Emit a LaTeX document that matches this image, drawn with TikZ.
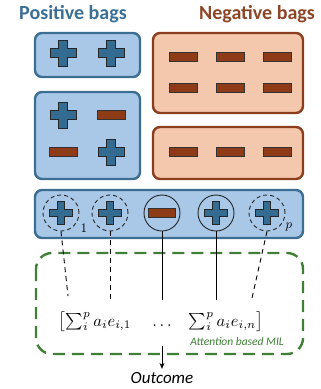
\documentclass[tikz,border=0pt]{standalone}
\usepackage{fontspec}
\setmainfont{Carlito}
\usetikzlibrary{arrows.meta}
\definecolor{bagblue}{HTML}{A9C8E8}
\definecolor{bagblueline}{HTML}{3C6E92}
\definecolor{plusfill}{HTML}{336C90}
\definecolor{negfill}{HTML}{F4C8AC}
\definecolor{negline}{HTML}{8A3E1E}
\definecolor{minusfill}{HTML}{8E3B17}
\definecolor{titleblue}{HTML}{3B6F96}
\definecolor{titlebrown}{HTML}{8C4526}
\definecolor{milgreen}{HTML}{3F7F36}
\newcommand{\bigmath}[1]{\scalebox{1.65}{#1}}
\tikzset{
  posbag/.style={draw=bagblueline, fill=bagblue, line width=2.4pt, rounded corners=7pt},
  negbag/.style={draw=negline, fill=negfill, line width=2.4pt, rounded corners=7pt},
  inst/.style={circle, minimum size=36pt, inner sep=0pt, draw=black!85, line width=0.9pt},
  dinst/.style={inst, dash pattern=on 4pt off 3pt},
  link/.style={draw=black, line width=0.9pt},
  dlink/.style={link, dash pattern=on 5pt off 4pt},
  mathtxt/.style={anchor=base},
  pics/plusmark/.style={code={
    \draw[fill=plusfill, draw=black!85, line width=1pt]
      (-4.5,-13) -- (4.5,-13) -- (4.5,-4.5) -- (13,-4.5) -- (13,4.5) -- (4.5,4.5)
      -- (4.5,13) -- (-4.5,13) -- (-4.5,4.5) -- (-13,4.5) -- (-13,-4.5) -- (-4.5,-4.5) -- cycle;}},
  pics/minusmark/.style={code={
    \draw[fill=minusfill, draw=black!80, line width=0.9pt] (-14,-4.5) rectangle (14,4.5);}}
}
\begin{document}
\begin{tikzpicture}[x=1pt,y=-1pt]
\useasboundingbox (0,0) rectangle (321,389);
% titles
\node[font=\fontsize{20}{22}\selectfont\bfseries, text=titleblue] (tpos) at (73,14) {Positive bags};
\node[font=\fontsize{20}{22}\selectfont\bfseries, text=titlebrown] (tneg) at (257,14) {Negative bags};
% bags
\node[posbag, minimum width=105pt, minimum height=44pt] (pb1) at (87.5,55) {};
\node[posbag, minimum width=105pt, minimum height=87pt] (pb2) at (87.5,135.5) {};
\node[negbag, minimum width=150pt, minimum height=80pt] (nb1) at (228,73) {};
\node[negbag, minimum width=150pt, minimum height=52pt] (nb2) at (228,153) {};
% positive bag 1
\pic at (63,53) {plusmark};
\pic at (111,53) {plusmark};
% positive bag 2
\pic at (63,115) {plusmark};
\pic at (111,115) {minusmark};
\pic at (63,152) {minusmark};
\pic at (111,152) {plusmark};
% negative bags
\foreach \x in {183,230,277}{
  \pic at (\x,57) {minusmark};
  \pic at (\x,88) {minusmark};
  \pic at (\x,152) {minusmark};
}
% bottom bag
\node[posbag, minimum width=268pt, minimum height=48pt] (bb) at (169,214) {};
\node[dinst] (e1) at (61,213) {};
\node[dinst] (e2) at (110,213) {};
\node[inst] (e3) at (162,213) {};
\node[inst] (e4) at (216,213) {};
\node[dinst] (e5) at (267,213) {};
\pic[scale=0.85] at (e1) {plusmark};
\pic[scale=0.85] at (e2) {plusmark};
\pic[scale=0.95] at (e3) {minusmark};
\pic[scale=0.85] at (e4) {plusmark};
\pic[scale=0.85] at (e5) {plusmark};
\node (s1) at (84,228) {\scalebox{1.3}{$1$}};
\node (s5) at (289,227) {\scalebox{1.3}{$p$}};
% MIL box
\draw[milgreen, line width=2.4pt, dash pattern=on 12pt off 7pt, rounded corners=16pt] (36,253) rectangle (303,354);
\node[font=\fontsize{11.5}{12}\selectfont\itshape, text=milgreen] (mil) at (237,342) {Attention based MIL};
% math
\node[mathtxt] (m1) at (95,326) {\bigmath{$\bigl[\textstyle\sum_i^p a_i e_{i,1}$}};
\node[mathtxt] (md) at (162,326) {\bigmath{$\ldots$}};
\node[mathtxt] (m2) at (226,326) {\bigmath{$\textstyle\sum_i^p a_i e_{i,n}\bigr]$}};
% links
\coordinate (l1) at (68,296);
\coordinate (l2) at (110,300);
\coordinate (l3) at (162,300);
\coordinate (l4) at (216,300);
\coordinate (l5) at (252,298);
\draw[dlink] (e1.south) -- (l1);
\draw[dlink] (e2.south) -- (l2);
\draw[link] (e3.south) -- (l3);
\draw[link] (e4.south) -- (l4);
\draw[dlink] (e5.south) -- (l5);
% outcome
\node[font=\fontsize{17}{19}\selectfont\itshape] (out) at (162,378) {Outcome};
\coordinate (a0) at (162,346);
\draw[link, -{Stealth[length=6pt,width=5pt]}] (a0) -- (out.north);
\end{tikzpicture}
\end{document}
